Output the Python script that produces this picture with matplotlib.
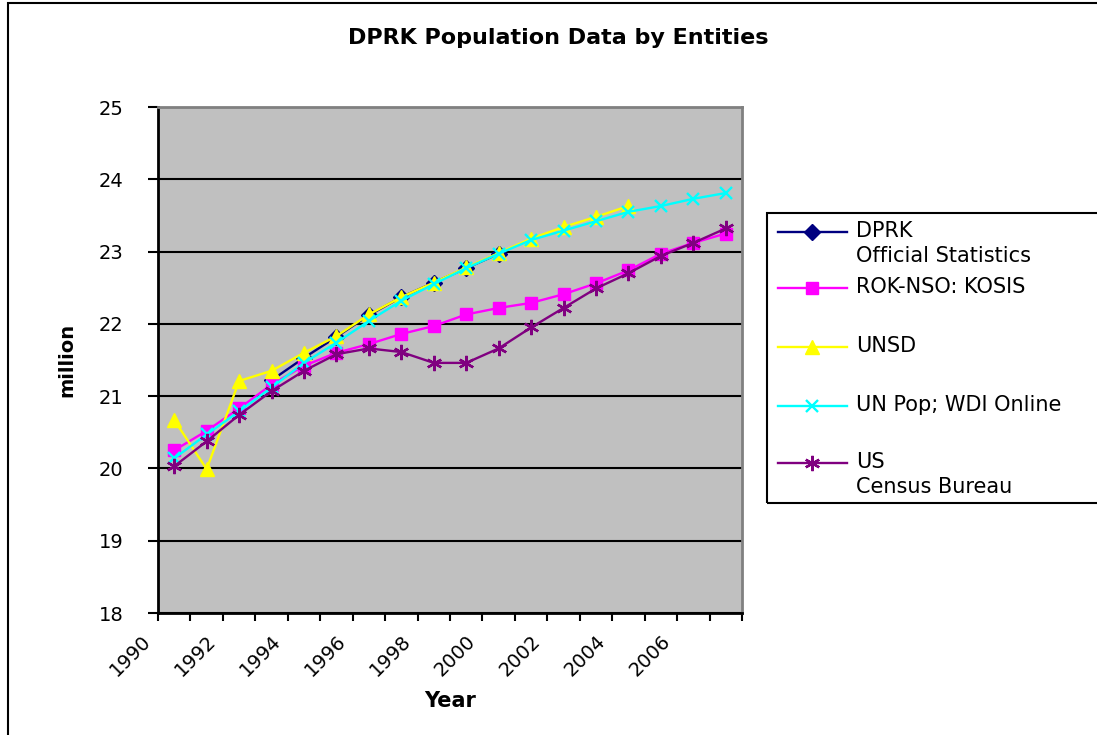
import matplotlib
matplotlib.use('Agg')
import matplotlib.pyplot as plt
from matplotlib.lines import Line2D
from matplotlib.patches import Rectangle
from matplotlib.transforms import ScaledTranslation

# Data (million people)
years = list(range(1990, 2008))
dprk_years = list(range(1993, 2001))
dprk = [21.22, 21.53, 21.82, 22.12, 22.37, 22.57, 22.77, 22.97]
rok = [20.25, 20.52, 20.83, 21.16, 21.42, 21.60, 21.72, 21.86, 21.97,
       22.13, 22.22, 22.29, 22.41, 22.56, 22.74, 22.97, 23.12, 23.25]
unsd_years = list(range(1990, 2005))
unsd = [20.67, 19.99, 21.21, 21.35, 21.60, 21.83, 22.13, 22.37, 22.57,
        22.78, 22.98, 23.18, 23.34, 23.48, 23.63]
unpop = [20.14, 20.47, 20.79, 21.12, 21.46, 21.74, 22.04, 22.32, 22.55,
         22.77, 22.97, 23.16, 23.29, 23.42, 23.55, 23.63, 23.73, 23.81]
census = [20.03, 20.375, 20.74, 21.07, 21.35, 21.58, 21.66, 21.61, 21.46,
          21.46, 21.66, 21.95, 22.22, 22.49, 22.70, 22.94, 23.12, 23.32]
tick_years = list(range(1990, 2007, 2))

plt.rcParams['font.family'] = 'DejaVu Sans'

W, H = 1097, 735
fig = plt.figure(figsize=(W / 100, H / 100), dpi=100)

def fx(x):
    return x / W

def fy(y):
    return 1 - y / H

# outer chart border
fig.add_artist(Rectangle((fx(8), fy(740)), 1.0, fy(3) - fy(740), transform=fig.transFigure,
                         fill=False, edgecolor='black', linewidth=1.5))

ax = fig.add_axes([fx(158), fy(613), fx(742) - fx(158), fy(107) - fy(613)])
ax.set_facecolor('#C0C0C0')

styles = [
    dict(color='#000080', marker='D', markersize=8),
    dict(color='#FF00FF', marker='s', markersize=9),
    dict(color='#FFFF00', marker='^', markersize=10.5),
    dict(color='#00FFFF', marker='x', markersize=9, markeredgewidth=1.7),
    dict(color='#800080', marker=(6, 2, 0), markersize=11, markeredgewidth=1.7),
]
series = [(dprk_years, dprk), (years, rok), (unsd_years, unsd), (years, unpop), (years, census)]
for (xs, ys), st in zip(series, styles):
    ax.plot(xs, ys, linewidth=1.7, zorder=3, **st)

ax.set_xlim(1989.5, 2007.5)
ax.set_ylim(18, 25)
ax.set_yticks(range(18, 26))
ax.yaxis.grid(True, color='black', linewidth=1.5)
ax.set_axisbelow(True)

ax.set_xticks(tick_years)
ax.set_xticklabels([str(y) for y in tick_years], rotation=45, ha='right', va='center',
                   rotation_mode='anchor', fontsize=14)
ax.set_xticks([y - 0.5 for y in years] + [2007.5], minor=True)
ax.tick_params(axis='x', which='major', length=0, pad=18)
ax.tick_params(axis='x', which='minor', length=6, width=1.5, direction='out')
ax.tick_params(axis='y', length=7, width=1.5, labelsize=14, pad=18)
for lab in ax.get_xticklabels():
    lab.set_transform(lab.get_transform() + ScaledTranslation(-0.26, 0, fig.dpi_scale_trans))

for side in ['left', 'bottom']:
    ax.spines[side].set_linewidth(2)
    ax.spines[side].set_color('black')
for side in ['top', 'right']:
    ax.spines[side].set_linewidth(2)
    ax.spines[side].set_color('#808080')

ax.set_xlabel('Year', fontsize=15, fontweight='bold', labelpad=8)
ax.set_ylabel('million', fontsize=14, fontweight='bold', labelpad=16)
fig.text(fx(558), fy(38), 'DPRK Population Data by Entities', ha='center', va='center',
         fontsize=16, fontweight='bold')

# legend box, drawn by hand so two-line names keep the marker on their first line
fig.add_artist(Rectangle((fx(767), fy(503)), 1.0, fy(213) - fy(503), transform=fig.transFigure,
                         fill=False, edgecolor='black', linewidth=1.5, zorder=5))
labels = ['DPRK\nOfficial Statistics', 'ROK-NSO: KOSIS', 'UNSD', 'UN Pop; WDI Online',
          'US\nCensus Bureau']
rows = [232, 288, 347, 406, 463]
for lab, row, st in zip(labels, rows, styles):
    fig.add_artist(Line2D([fx(778), fx(847)], [fy(row), fy(row)], transform=fig.transFigure,
                          linewidth=1.7, **{k: v for k, v in st.items() if k != 'marker'}))
    fig.add_artist(Line2D([fx(812)], [fy(row)], transform=fig.transFigure, linestyle='none',
                          **st))
    fig.text(fx(856), fy(row - 11), lab, ha='left', va='top', fontsize=15, linespacing=1.3)

fig.savefig('out.png', dpi=100)
